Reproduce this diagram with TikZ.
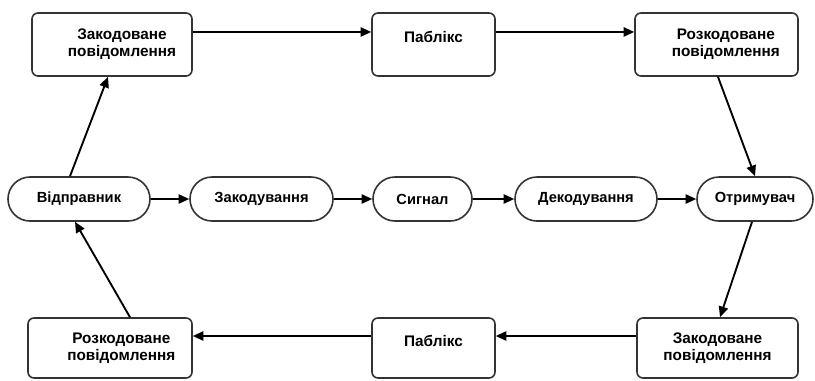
\documentclass[tikz,border=0pt]{standalone}
\usepackage{fontspec}
\setmainfont{Liberation Sans}
\usetikzlibrary{shapes.misc}
\usetikzlibrary{arrows.meta}

\begin{document}
\begin{tikzpicture}[x=0.75pt,y=0.75pt,yscale=-1,xscale=1,
  msgbox/.style={draw=black!80, line width=1.2pt, rounded corners=4.5pt, fill=white, align=center, inner sep=0pt, font=\bfseries\fontsize{11.5}{13}\selectfont},
  pubbox/.style={msgbox, text height=8.5pt, text depth=11pt},
  stagenode/.style={draw=black!80, line width=1.2pt, rounded rectangle, fill=white, minimum height=33pt, inner sep=0pt, font=\bfseries\fontsize{11}{12}\selectfont},
  flow/.style={line width=1.4pt, -{Triangle[length=8pt,width=7pt]}}]
\useasboundingbox (0,0) rectangle (815,380);

%Top row
\node [msgbox, minimum width=120pt, minimum height=47.25pt] (codedtop) at (112,44.5) {\hspace*{15pt}Закодоване\\\hspace*{15pt}повідомлення};
\node [pubbox, minimum width=92.25pt, minimum height=47.25pt] (pubtop) at (433.5,44.5) {Паблікс};
\node [msgbox, minimum width=122.25pt, minimum height=47.25pt] (decodedtop) at (716.5,44.5) {\hspace*{14pt}Розкодоване\\\hspace*{14pt}повідомлення};

%Middle row
\node [stagenode, minimum width=106.5pt] (sender) at (79,199) {Відправник};
\node [stagenode, minimum width=107.25pt] (encoding) at (261.5,199) {Закодування};
\node [stagenode, minimum width=74.25pt] (signal) at (422.5,199) {Сигнал};
\node [stagenode, minimum width=106.5pt] (decoding) at (586,199) {Декодування};
\node [stagenode, minimum width=87pt] (receiver) at (755,199) {Отримувач};

%Bottom row
\node [msgbox, minimum width=123pt, minimum height=45pt] (decodedbot) at (110,348) {\hspace*{17pt}Розкодоване\\\hspace*{17pt}повідомлення};
\node [pubbox, minimum width=92.25pt, minimum height=45pt] (pubbot) at (433.5,348) {Паблікс};
\node [msgbox, minimum width=120.75pt, minimum height=45pt] (codedbot) at (717.5,348) {Закодоване\\повідомлення};

%Arrows
\draw [flow] ([xshift=-6.75pt]sender.north) -- ([xshift=-3pt]codedtop.south);
\draw [flow] ([yshift=-9.4pt]codedtop.east) -- ([yshift=-9.4pt]pubtop.west);
\draw [flow] ([yshift=-9.4pt]pubtop.east) -- ([yshift=-9.4pt]decodedtop.west);
\draw [flow] ([xshift=1.1pt]decodedtop.south) -- (receiver.north);
\draw [flow] ([xshift=-2.25pt]receiver.south) -- ([xshift=1.9pt]codedbot.north);
\draw [flow] ([yshift=-9pt]codedbot.west) -- ([yshift=-9pt]pubbot.east);
\draw [flow] ([yshift=-9pt]pubbot.west) -- ([yshift=-9pt]decodedbot.east);
\draw [flow] ([xshift=15pt]decodedbot.north) -- ([xshift=-3pt]sender.south);
\draw [flow] (sender) -- (encoding);
\draw [flow] (encoding) -- (signal);
\draw [flow] (signal) -- (decoding);
\draw [flow] (decoding) -- (receiver);

\end{tikzpicture}
\end{document}
